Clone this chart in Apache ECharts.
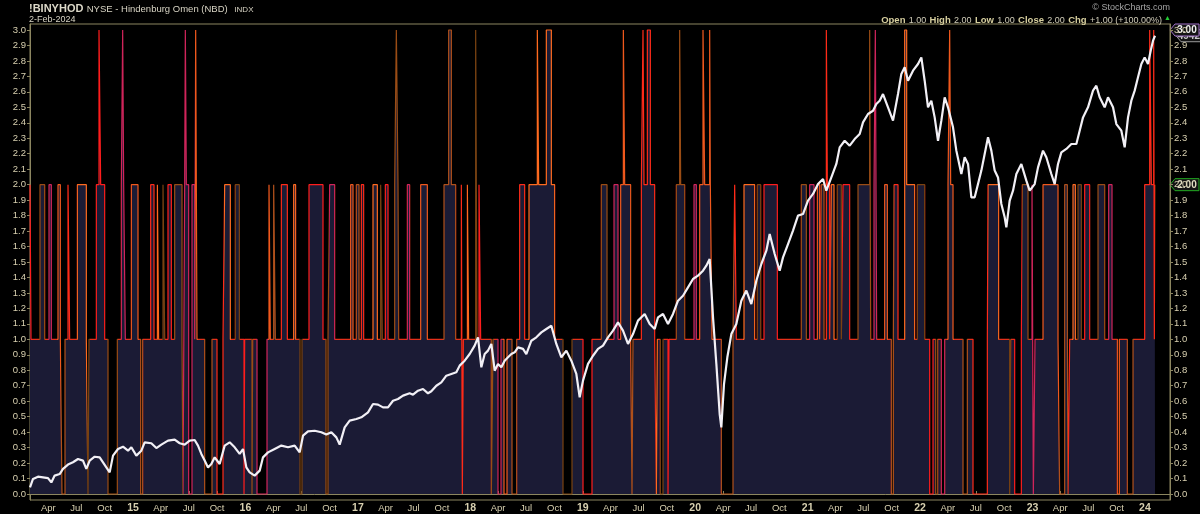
<!DOCTYPE html>
<html><head><meta charset="utf-8">
<script src="https://cdn.jsdelivr.net/npm/echarts@6/dist/echarts.min.js"></script>
<style>html,body{margin:0;padding:0;background:#000;}#c{width:1200px;height:514px;}</style>
</head><body><div id="c"></div>
<script>
// Hindenburg Omen (NBD) — change points [decimal year, level]; level holds until next point
const omenSteps = [
[2014.0840,2],[2014.0929,1],[2014.1729,2],[2014.2144,1],[2014.2530,2],[2014.2737,1],[2014.3330,2],[2014.3538,1],[2014.3686,0],[2014.3953,1],
[2014.4220,2],[2014.4368,1],[2014.5050,2],[2014.5850,1],[2014.5998,0],[2014.6087,1],[2014.6740,2],[2014.6977,3],[2014.7125,2],[2014.7481,1],
[2014.7777,0],[2014.8607,1],[2014.8963,2],[2014.9082,3],[2014.9170,2],[2014.9318,1],[2014.9852,2],[2015.0445,1],[2015.0682,0],[2015.0860,1],
[2015.1572,2],[2015.1868,1],[2015.2165,2],[2015.2283,1],[2015.2669,2],[2015.2817,1],[2015.3113,2],[2015.3410,1],[2015.3706,2],[2015.4358,1],
[2015.4447,0],[2015.4596,2],[2015.4655,3],[2015.4744,2],[2015.4951,0],[2015.5248,2],[2015.5485,1],[2015.5574,3],[2015.5693,1],[2015.6374,0],
[2015.7027,1],[2015.7471,0],[2015.8005,1],[2015.8153,2],[2015.8657,1],[2015.9102,2],[2015.9458,1],[2015.9873,0],[2015.9932,1],[2016.0584,0],
[2016.0643,1],[2016.1029,0],[2016.1918,1],[2016.2096,2],[2016.2214,1],[2016.2511,2],[2016.2659,1],[2016.3193,2],[2016.3726,1],[2016.4289,2],
[2016.4467,1],[2016.4853,0],[2016.5031,1],[2016.5653,2],[2016.6898,1],[2016.7165,0],[2016.7343,1],[2016.7491,2],[2016.7936,1],[2016.9359,2],
[2016.9566,1],[2016.9863,2],[2017.0100,1],[2017.0308,2],[2017.0515,1],[2017.1345,2],[2017.1730,1],[2017.2027,2],[2017.2175,1],[2017.2442,2],
[2017.2680,1],[2017.3273,2],[2017.3421,3],[2017.3569,2],[2017.3628,1],[2017.4399,2],
[2017.4606,1],[2017.5585,2],[2017.6177,1],[2017.7660,2],[2017.8075,3],[2017.8312,2],[2017.8697,1],[2017.9201,2],[2017.9290,0],[2017.9379,1],
[2017.9735,2],[2017.9854,1],[2018.0476,3],[2018.0595,1],[2018.0773,2],[2018.0921,1],[2018.1870,0],[2018.2018,1],[2018.2462,0],[2018.2729,1],
[2018.2996,0],[2018.3263,1],[2018.3707,0],[2018.4123,1],[2018.4389,2],[2018.4834,1],[2018.5219,2],[2018.5960,3],[2018.6079,2],[2018.6761,3],
[2018.7206,2],[2018.7502,1],[2018.8243,0],[2018.9044,1],[2019.0022,0],[2019.0822,1],[2019.1653,2],[2019.2157,1],[2019.2780,2],[2019.3135,1],
[2019.3372,2],[2019.3610,3],[2019.3728,2],[2019.4262,1],[2019.4380,0],[2019.4469,1],[2019.5210,2],[2019.5358,3],[2019.5447,2],[2019.5744,3],
[2019.6011,2],[2019.6396,1],[2019.6544,0],[2019.6633,1],[2019.6900,0],[2019.7137,1],[2019.7582,0],[2019.7670,1],[2019.8323,2],[2019.8619,3],
[2019.8708,2],[2019.9064,1],[2019.9894,2],[2020.0101,1],[2020.0398,2],[2020.0694,3],[2020.0842,2],[2020.1287,3],[2020.1346,2],[2020.1494,1],
[2020.2325,0],[2020.3362,1],[2020.3511,2],[2020.3659,1],[2020.4340,2],[2020.5289,1],[2020.5526,2],[2020.5823,1],[2020.6119,2],[2020.7305,1],
[2020.9440,2],[2020.9885,1],[2021.0181,2],[2021.0566,1],[2021.0863,2],[2021.1070,1],[2021.1219,2],[2021.1456,1],[2021.1663,3],[2021.1752,2],
[2021.1960,1],[2021.2108,2],[2021.2345,1],[2021.2642,2],[2021.2997,1],[2021.3146,2],[2021.3739,1],[2021.4480,2],[2021.5517,3],[2021.5606,1],
[2021.5903,2],[2021.6021,3],[2021.6140,1],[2021.6851,2],[2021.7088,1],[2021.7444,0],[2021.7622,1],[2021.7681,2],[2021.8037,1],[2021.8630,3],
[2021.8808,2],[2021.9519,1],[2021.9757,2],[2022.0409,1],[2022.0854,0],[2022.1150,1],[2022.1387,0],[2022.1565,1],[2022.1891,0],[2022.2188,1],
[2022.2484,2],[2022.2632,3],[2022.2721,2],[2022.2929,1],[2022.3818,0],[2022.4203,1],[2022.4707,0],[2022.5982,1],[2022.6042,2],[2022.6990,1],
[2022.7968,0],[2022.8058,1],[2022.8413,0],[2022.9006,1],[2022.9095,2],[2022.9599,1],[2022.9955,2],[2023.0074,0],[2023.0222,1],[2023.0933,2],
[2023.2267,1],[2023.2415,0],[2023.2860,2],[2023.3097,1],[2023.3157,0],[2023.3305,1],[2023.3601,2],[2023.3809,1],[2023.4046,2],[2023.4342,1],
[2023.4639,2],[2023.5084,1],[2023.5825,2],[2023.6417,1],[2023.6773,2],[2023.7070,1],[2023.7544,0],[2023.7722,1],[2023.8434,0],[2023.8938,1],
[2023.9976,2],[2024.0421,3],[2024.0569,2],[2024.0776,3],[2024.0836,1],[2024.0865,2],[2024.0895,2]
];

// Overlaid price (drawn on the indicator scale) — [decimal year, scaled level]
const priceSeries = [
[2014.0840,0.043],[2014.1107,0.097],[2014.1551,0.112],[2014.1996,0.108],[2014.2441,0.103],[2014.2737,0.075],[2014.3034,0.119],[2014.3478,0.129],
[2014.3775,0.162],[2014.4220,0.190],[2014.4664,0.205],[2014.5109,0.226],[2014.5554,0.216],[2014.5850,0.162],[2014.6147,0.216],[2014.6591,0.241],
[2014.7036,0.237],[2014.7332,0.205],[2014.7629,0.172],[2014.7925,0.140],[2014.8222,0.248],[2014.8666,0.291],[2014.9111,0.306],[2014.9556,0.280],
[2014.9852,0.302],[2015.0297,0.248],[2015.0742,0.280],[2015.1038,0.334],[2015.1631,0.328],[2015.2076,0.297],[2015.2520,0.319],[2015.3113,0.345],
[2015.3706,0.351],[2015.4151,0.328],[2015.4596,0.319],[2015.5040,0.345],[2015.5485,0.349],[2015.5782,0.313],[2015.6078,0.259],[2015.6374,0.216],
[2015.6671,0.172],[2015.6967,0.194],[2015.7264,0.237],[2015.7709,0.194],[2015.8153,0.313],[2015.8598,0.334],[2015.9043,0.302],[2015.9487,0.259],
[2015.9784,0.291],[2016.0080,0.172],[2016.0377,0.140],[2016.0821,0.119],[2016.1266,0.151],[2016.1562,0.237],[2016.2007,0.269],[2016.2600,0.291],
[2016.3193,0.313],[2016.3786,0.302],[2016.4379,0.313],[2016.4824,0.269],[2016.5120,0.377],[2016.5565,0.405],[2016.6158,0.409],[2016.6751,0.399],
[2016.7195,0.384],[2016.7640,0.399],[2016.8085,0.366],[2016.8381,0.319],[2016.8826,0.431],[2016.9271,0.474],[2016.9864,0.485],[2017.0308,0.496],
[2017.0901,0.528],[2017.1346,0.582],[2017.1791,0.578],[2017.2235,0.560],[2017.2680,0.560],[2017.3125,0.603],[2017.3569,0.614],[2017.4014,0.636],
[2017.4607,0.651],[2017.4903,0.642],[2017.5347,0.668],[2017.5792,0.679],[2017.6237,0.651],[2017.6533,0.664],[2017.6978,0.700],[2017.7423,0.722],
[2017.7867,0.765],[2017.8312,0.776],[2017.8757,0.787],[2017.9053,0.830],[2017.9498,0.862],[2017.9943,0.905],[2018.0387,0.959],[2018.0684,1.013],
[2018.0980,0.819],[2018.1277,0.905],[2018.1573,0.927],[2018.1870,0.970],[2018.2166,0.797],[2018.2462,0.841],[2018.2759,0.819],[2018.3055,0.862],
[2018.3352,0.884],[2018.3648,0.905],[2018.3945,0.916],[2018.4241,0.948],[2018.4686,0.938],[2018.4982,0.905],[2018.5427,0.991],[2018.5872,1.013],
[2018.6316,1.045],[2018.6761,1.067],[2018.7206,1.088],[2018.7650,0.970],[2018.8095,0.884],[2018.8540,0.927],[2018.8984,0.862],[2018.9429,0.776],
[2018.9725,0.625],[2019.0022,0.733],[2019.0467,0.841],[2019.0911,0.894],[2019.1356,0.938],[2019.1801,0.959],[2019.2246,1.013],[2019.2690,1.056],
[2019.3135,1.110],[2019.3580,1.056],[2019.4024,0.970],[2019.4469,1.034],[2019.4914,1.121],[2019.5507,1.164],[2019.5951,1.099],[2019.6396,1.067],
[2019.6693,1.142],[2019.7137,1.164],[2019.7582,1.099],[2019.8027,1.164],[2019.8471,1.250],[2019.8916,1.282],[2019.9361,1.336],[2019.9805,1.390],
[2020.0250,1.412],[2020.0695,1.444],[2020.0991,1.476],[2020.1288,1.519],[2020.1584,1.142],[2020.1881,0.841],[2020.2177,0.517],[2020.2325,0.431],
[2020.2562,0.711],[2020.2859,0.884],[2020.3214,1.034],[2020.3659,1.099],[2020.4104,1.250],[2020.4549,1.315],[2020.4993,1.228],[2020.5438,1.379],
[2020.5883,1.487],[2020.6328,1.573],[2020.6624,1.681],[2020.7069,1.552],[2020.7513,1.444],[2020.7810,1.530],[2020.8255,1.616],[2020.8699,1.703],
[2020.9143,1.800],[2020.9588,1.810],[2021.0033,1.897],[2021.0477,1.940],[2021.0922,2.004],[2021.1367,2.037],[2021.1663,1.961],[2021.2108,2.047],
[2021.2553,2.134],[2021.2849,2.241],[2021.3294,2.284],[2021.3739,2.252],[2021.4183,2.295],[2021.4628,2.328],[2021.4924,2.403],[2021.5369,2.457],
[2021.5814,2.478],[2021.6110,2.522],[2021.6407,2.543],[2021.6703,2.586],[2021.7148,2.500],[2021.7593,2.414],[2021.8037,2.586],[2021.8334,2.716],
[2021.8630,2.759],[2021.8927,2.672],[2021.9371,2.737],[2021.9816,2.780],[2022.0112,2.823],[2022.0409,2.672],[2022.0705,2.500],[2022.1002,2.543],
[2022.1298,2.435],[2022.1595,2.284],[2022.1891,2.414],[2022.2188,2.565],[2022.2484,2.500],[2022.2929,2.371],[2022.3225,2.220],[2022.3670,2.069],
[2022.3966,2.177],[2022.4263,2.134],[2022.4559,1.918],[2022.4856,1.918],[2022.5152,2.004],[2022.5449,2.091],[2022.5745,2.198],[2022.6042,2.306],
[2022.6338,2.220],[2022.6635,2.091],[2022.6931,2.047],[2022.7228,1.875],[2022.7524,1.789],[2022.7672,1.724],[2022.7969,1.897],[2022.8265,1.961],
[2022.8562,2.069],[2022.9006,2.134],[2022.9451,2.026],[2022.9748,1.961],[2023.0192,2.004],[2023.0489,2.112],[2023.0933,2.220],[2023.1230,2.177],
[2023.1674,2.069],[2023.1971,2.004],[2023.2267,2.134],[2023.2564,2.209],[2023.3008,2.231],[2023.3453,2.263],[2023.3898,2.263],[2023.4194,2.349],
[2023.4491,2.435],[2023.4935,2.500],[2023.5380,2.608],[2023.5676,2.640],[2023.5973,2.565],[2023.6417,2.500],[2023.6714,2.565],[2023.7159,2.500],
[2023.7455,2.392],[2023.7900,2.349],[2023.8196,2.241],[2023.8493,2.435],[2023.8789,2.543],[2023.9086,2.608],[2023.9382,2.694],[2023.9679,2.780],
[2023.9975,2.823],[2024.0272,2.780],[2024.0509,2.866],[2024.0717,2.931],[2024.0895,2.963]
];

const yTicks = [0.0,0.1,0.2,0.3,0.4,0.5,0.6,0.7,0.8,0.9,1.0,1.1,1.2,1.3,1.4,1.5,1.6,1.7,1.8,1.9,2.0,2.1,2.2,2.3,2.4,2.5,2.6,2.7,2.8,2.9,3.0];
const tickYears = [2014,2015,2016,2017,2018,2019,2020,2021,2022,2023,2024];
const quarterMonths = [0,3,6,9];
const monthNames = ['Jan','Feb','Mar','Apr','May','Jun','Jul','Aug','Sep','Oct','Nov','Dec'];
const headerTitle = '!BINYHOD', headerName = 'NYSE - Hindenburg Omen (NBD)', headerType = 'INDX';
const headerDate = '2-Feb-2024';
const quote = [['Open','1.00'],['High','2.00'],['Low','1.00'],['Close','2.00'],['Chg','+1.00 (+100.00%)']];
const lastLevel = 2.00, tagTop = 3.00, lastPriceText = '4942.8';

const X_MIN = 2014.084, X_MAX = 2024.2227, Y_MIN = -0.0388, Y_MAX = 3.0388;

function decYear(y, m) {
  const s = Date.UTC(y,0,1), e = Date.UTC(y+1,0,1);
  return y + (Date.UTC(y,m,1) - s) / (e - s);
}
const xTicks = [];
tickYears.forEach(y => quarterMonths.forEach(m => {
  const v = decYear(y, m);
  if (v >= X_MIN && v <= X_MAX) xTicks.push({v, label: m === 0 ? String(y).slice(2) : monthNames[m], year: m === 0});
}));

// colour pieces: each excursion away from level 1 gets its own hue; boundaries nudged so the
// vertical strokes take the excursion's colour
const palette = ['#ff1c1c','#9a4c14','#d0245a','#f0581c','#b0501a','#ff2a18','#ff6a1e','#7a4210'];
const BASE = '#e6301a', NUDGE = 0.006;
const bounds = [];
for (let k = 1; k < omenSteps.length; k++) {
  const prevOne = omenSteps[k-1][1] === 1, nextOne = omenSteps[k][1] === 1;
  let b = omenSteps[k][0];
  if (!prevOne && nextOne) b += NUDGE;
  else if (prevOne && !nextOne) b -= NUDGE;
  if (bounds.length && b <= bounds[bounds.length-1]) b = bounds[bounds.length-1] + 1e-5;
  bounds.push(b);
}
const pieces = [];
let exc = 0;
for (let i = 0; i < omenSteps.length; i++) {
  const p = {};
  if (i > 0) p.gte = bounds[i-1]; else p.gte = X_MIN - 1;
  if (i < omenSteps.length - 1) p.lt = bounds[i];
  if (omenSteps[i][1] === 1) { p.color = BASE; exc++; }
  else p.color = palette[exc % palette.length];
  pieces.push(p);
}

const axisColor = '#8c8660', labelColor = '#d8d0b0';
const FONT = 'Liberation Sans';

const chart = echarts.init(document.getElementById('c'), null, {renderer: 'canvas'});
chart.setOption({
  backgroundColor: '#000',
  animation: false,
  grid: {left: 30, right: 30, top: 24, bottom: 14, show: true, borderColor: axisColor, borderWidth: 1, backgroundColor: '#000'},
  xAxis: {
    type: 'value', min: X_MIN, max: X_MAX,
    axisLine: {show: true, lineStyle: {color: axisColor}},
    axisTick: {show: true, length: 3, inside: true, customValues: xTicks.map(t => t.v), lineStyle: {color: axisColor}},
    splitLine: {show: false},
    axisLabel: {
      customValues: xTicks.map(t => t.v), margin: 3, color: labelColor, fontFamily: FONT, fontSize: 9.5,
      formatter: function (val) {
        const t = xTicks.find(k => Math.abs(k.v - val) < 1e-6);
        if (!t) return '';
        return t.year ? '{y|' + t.label + '}' : t.label;
      },
      rich: {y: {fontWeight: 'bold', fontSize: 10.5, color: labelColor, fontFamily: FONT}}
    }
  },
  yAxis: [0, 1].map(i => ({
    type: 'value', min: Y_MIN, max: Y_MAX, position: i === 0 ? 'left' : 'right',
    axisLine: {show: true, lineStyle: {color: axisColor}},
    axisTick: {show: true, length: 3, customValues: yTicks, lineStyle: {color: axisColor}},
    splitLine: {show: false},
    axisLabel: {customValues: yTicks, margin: 4, color: labelColor, fontFamily: FONT, fontSize: 9.5,
      formatter: v => Number(v).toFixed(1)}
  })),
  visualMap: {type: 'piecewise', show: false, dimension: 0, seriesIndex: 0, pieces: pieces},
  series: [
    {
      name: 'Omen', type: 'line', step: 'end', symbol: 'none', yAxisIndex: 0,
      data: omenSteps,
      lineStyle: {width: 1.2},
      areaStyle: {color: '#1b1b35', opacity: 1},
      z: 2
    },
    {
      name: 'Price', type: 'line', symbol: 'none', yAxisIndex: 0,
      data: priceSeries,
      lineStyle: {color: '#f2f0f6', width: 2.2},
      z: 3
    }
  ]
});

// annotations (positions of value tags come from the chart's own scales)
const axX = chart.convertToPixel({xAxisIndex: 0}, X_MAX);
function tag(val, text, border, txtColor, dx, id) {
  const y = chart.convertToPixel({yAxisIndex: 0}, val);
  return {type: 'group', id, x: axX + dx, y: y, z: 100, children: [
    {type: 'polygon', shape: {points: [[0,0],[5,-6],[29,-6],[29,6],[5,6]]}, style: {fill: '#141414', stroke: border, lineWidth: 1}},
    {type: 'text', style: {x: 17, y: 0.5, text, fill: txtColor, font: 'bold 10px ' + FONT, align: 'center', verticalAlign: 'middle'}}
  ]};
}
const lastPrice = priceSeries[priceSeries.length - 1][1];
const hdrRich = {
  a: {fontWeight: 'bold', fontSize: 11, fill: '#dcd8c8', fontFamily: FONT, verticalAlign: 'bottom'},
  b: {fontSize: 9.5, fill: '#d8d4c4', fontFamily: FONT, verticalAlign: 'bottom'},
  c: {fontSize: 8, fill: '#d8d4c4', fontFamily: FONT, verticalAlign: 'bottom'}
};
const qRich = {
  l: {fontWeight: 'bold', fontSize: 9.5, fill: '#d6ce9e', fontFamily: FONT, verticalAlign: 'bottom'},
  v: {fontSize: 9, fill: '#d0ccb8', fontFamily: FONT, verticalAlign: 'bottom'}
};
const qText = quote.map(q => '{l|' + q[0] + '} {v|' + q[1] + '}').join(' ');
chart.setOption({graphic: [
  {type: 'text', id: 't1', x: 29, y: 8, style: {text: '{a|' + headerTitle + '} {b|' + headerName + '}  {c|' + headerType + '}', rich: hdrRich, verticalAlign: 'middle'}},
  {type: 'text', id: 't4', x: 29, y: 19.5, style: {text: headerDate, font: '9px ' + FONT, fill: '#d8d4c4', verticalAlign: 'middle'}},
  {type: 'text', id: 't5', x: 1170, y: 7.5, style: {text: '\u00A9 StockCharts.com', font: '9px ' + FONT, fill: '#a4a4a4', align: 'right', verticalAlign: 'middle'}},
  {type: 'text', id: 't6', x: 1162, y: 19, style: {text: qText, rich: qRich, align: 'right', verticalAlign: 'middle'}},
  {type: 'text', id: 't7', x: 1164, y: 18.5, style: {text: '\u25B2', font: '7px ' + FONT, fill: '#22cc33', verticalAlign: 'middle'}},
  tag(lastPrice, lastPriceText, '#9a9a9a', '#c8c8c8', 6, 'g1'),
  tag(tagTop, tagTop.toFixed(2), '#a070c8', '#f0f0f0', 0, 'g2'),
  tag(lastLevel, lastLevel.toFixed(2), '#22aa22', '#e0dcc0', 0, 'g3')
]});
</script>
</body></html>
